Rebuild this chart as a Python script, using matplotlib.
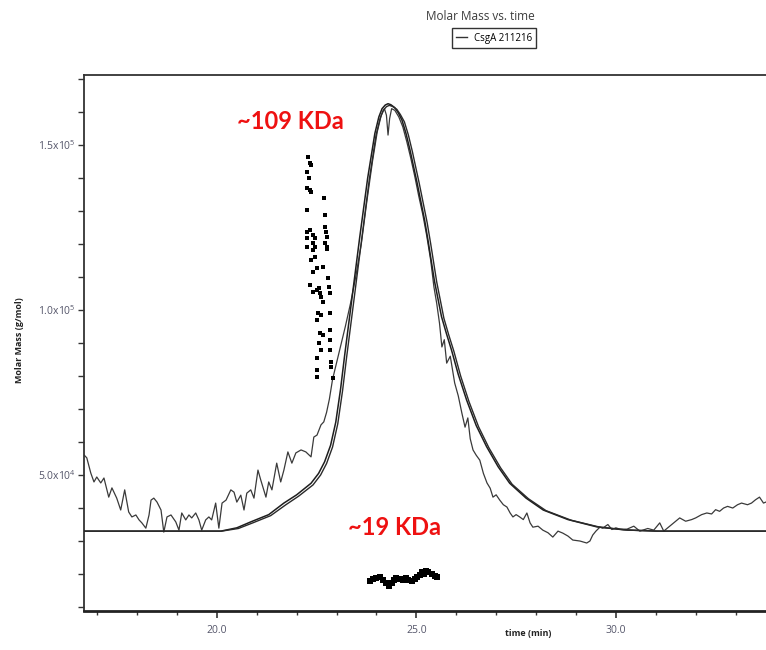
import matplotlib
matplotlib.use("Agg")
import matplotlib.pyplot as plt
from matplotlib.ticker import MultipleLocator, FixedLocator, FuncFormatter
from matplotlib.lines import Line2D

# ---- data -------------------------------------------------------------
# detector trace (noisy), time in min, molar mass in g/mol
trace_t = [16.62, 16.67, 16.74, 16.84, 16.92, 16.99, 17.09, 17.17, 17.29, 17.37, 17.49,
           17.59, 17.69, 17.79, 17.87, 17.97, 18.05, 18.12, 18.22, 18.30, 18.35, 18.42,
           18.50, 18.60, 18.67, 18.75, 18.85, 18.97, 19.05, 19.12, 19.22, 19.30, 19.37,
           19.47, 19.55, 19.62, 19.72, 19.80, 19.87, 19.97, 20.05, 20.13, 20.23, 20.35,
           20.43, 20.50, 20.60, 20.68, 20.75, 20.85, 20.93, 21.03, 21.10, 21.23, 21.30,
           21.38, 21.50, 21.60, 21.68, 21.78, 21.88, 21.98, 22.11, 22.23, 22.36, 22.43,
           22.51, 22.61, 22.68, 22.75, 22.82, 22.90, 23.00, 23.10, 23.22, 23.35, 23.48,
           23.62, 23.76, 23.90, 24.02, 24.12, 24.20, 24.25, 24.29, 24.33, 24.38, 24.46,
           24.56, 24.66, 24.76, 24.86, 24.96, 25.06, 25.16, 25.26, 25.36, 25.44, 25.51,
           25.58, 25.64, 25.70, 25.76, 25.85, 25.96, 26.05, 26.14, 26.22, 26.29, 26.35,
           26.42, 26.50, 26.59, 26.68, 26.77, 26.85, 26.92, 27.00, 27.09, 27.18, 27.27,
           27.35, 27.42, 27.50, 27.59, 27.68, 27.77, 27.85, 27.92, 28.05, 28.17, 28.30,
           28.42, 28.55, 28.67, 28.80, 28.92, 29.10, 29.27, 29.35, 29.42, 29.50, 29.60,
           29.67, 29.80, 29.90, 30.00, 30.10, 30.28, 30.45, 30.60, 30.80, 30.95, 31.10,
           31.20, 31.35, 31.50, 31.60, 31.75, 31.90, 32.00, 32.15, 32.28, 32.40, 32.50,
           32.60, 32.70, 32.80, 32.93, 33.05, 33.15, 33.30, 33.40, 33.50, 33.60, 33.70,
           33.80, 33.95]
trace_m = [55000, 56100, 55200, 50600, 47900, 49400, 47600, 49100, 43300, 46100, 43000,
           39400, 45500, 38800, 37300, 37900, 36400, 35500, 33900, 37900, 42400, 43000,
           41800, 39400, 32700, 37300, 37900, 35800, 33300, 38500, 36400, 37900, 37000,
           38500, 36400, 33300, 36400, 37300, 36400, 41500, 33900, 41500, 42400, 45500,
           44800, 41800, 43900, 39400, 44500, 45500, 43000, 51500, 48500, 43300, 47900,
           45500, 53600, 47900, 51500, 57000, 53600, 56700, 57600, 57000, 55500, 61500,
           62100, 65200, 66100, 69000, 73000, 79000, 84000, 89000, 95000, 102000, 110000,
           120000, 133000, 145000, 154000, 159000, 161000, 159000, 153000, 158000, 161000, 160500,
           158500, 155500, 151000, 146000, 140500, 134500, 129000, 122500, 115000, 107000, 102000,
           96000, 88800, 91000, 83900, 86000, 77900, 74000, 68800, 64500, 67300, 61000,
           57600, 56000, 54500, 50500, 47600, 46000, 43300, 44000, 42400, 41000, 40300,
           38500, 37300, 38000, 37300, 36500, 38500, 35500, 34200, 34500, 33300, 32500,
           31200, 33000, 32400, 31500, 30300, 30000, 29400, 30000, 31800, 33000, 34200,
           33900, 35000, 33500, 34000, 33600, 33600, 34500, 33000, 33800, 33300, 35500,
           33000, 34500, 36000, 37000, 36000, 36500, 37000, 38000, 38500, 38200, 39500,
           39000, 40000, 40500, 40000, 41000, 41500, 41000, 41500, 42500, 43300, 41500,
           42000, 42500]

# fitted traces (smooth)
fit1_t = [16.60, 20.10, 20.50, 20.85, 21.30, 21.68, 22.00, 22.36, 22.55, 22.70, 22.85,
          22.98, 23.10, 23.20, 23.38, 23.58, 23.78, 23.96, 24.06, 24.14, 24.22, 24.29,
          24.36, 24.46, 24.55, 24.64, 24.74, 24.84, 24.92, 25.01, 25.11, 25.21, 25.30,
          25.45, 25.63, 25.75, 25.88, 26.05, 26.26, 26.50, 26.76, 27.05, 27.34, 27.75,
          28.18, 28.80, 29.52, 30.20, 31.00, 36.60]
fit1_m = [33000, 33000, 34000, 35800, 38000, 41500, 44000, 47500, 50500, 54000, 59000,
          66000, 76000, 86000, 103000, 122000, 140000, 153500, 158500, 161000, 162100, 162500,
          162200, 161300, 159700, 157500, 153500, 148500, 144000, 139000, 133000, 127000, 120500,
          109000, 98000, 93000, 87900, 80500, 72700, 65000, 58600, 52500, 47500, 43000,
          39400, 36500, 34300, 33400, 33000, 33000]

fit2_t = [16.60, 20.12, 20.54, 20.90, 21.35, 21.73, 22.05, 22.41, 22.60, 22.75, 22.90,
          23.03, 23.15, 23.25, 23.43, 23.63, 23.82, 23.99, 24.09, 24.17, 24.25, 24.32,
          24.40, 24.51, 24.60, 24.70, 24.80, 24.90, 24.98, 25.07, 25.17, 25.27, 25.36,
          25.51, 25.69, 25.81, 25.94, 26.11, 26.32, 26.56, 26.82, 27.11, 27.40, 27.81,
          28.25, 28.88, 29.60, 30.30, 31.10, 36.60]
fit2_m = [33000, 33000, 33800, 35500, 37700, 41000, 43600, 47000, 50000, 53500, 58500,
          65500, 75500, 85500, 102500, 121500, 139500, 153000, 158000, 160500, 161600, 162000,
          161700, 160800, 159200, 157000, 153000, 148000, 143500, 138500, 132500, 126500, 120000,
          108500, 97500, 92500, 87500, 80000, 72200, 64600, 58200, 52200, 47200, 42800,
          39200, 36300, 34200, 33300, 33000, 33000]

# molar mass points, high-mass species
hm_t = [22.29, 22.33, 22.37, 22.25, 22.31, 22.25, 22.33, 22.35, 22.25, 22.25, 22.25,
        22.25, 22.33, 22.41, 22.46, 22.41, 22.46, 22.41, 22.37, 22.46, 22.40, 22.50,
        22.33, 22.41, 22.50, 22.56, 22.58, 22.62, 22.66, 22.54, 22.62, 22.50, 22.58,
        22.65, 22.56, 22.62, 22.50, 22.50, 22.51,
        22.68, 22.71, 22.71, 22.73, 22.75, 22.71, 22.75, 22.76, 22.66, 22.79, 22.81,
        22.83, 22.83, 22.83, 22.83, 22.83, 22.87, 22.87, 22.90]
hm_m = [146300, 144400, 143900, 141900, 139900, 136900, 136400, 135800, 130300, 123700, 121700,
        119000, 124200, 122700, 121700, 120200, 119200, 118200, 115100, 116100, 111600, 112600,
        107600, 105500, 106100, 106600, 105100, 104000, 102500, 99000, 98500, 97000, 92900,
        92400, 89900, 87900, 85400, 81800, 79800,
        133800, 128800, 125200, 123700, 122200, 120200, 119200, 118400, 113100, 109600, 107100,
        105100, 99000, 93900, 90900, 87900, 84300, 82800, 79300]

# molar mass points, low-mass species
lm_t = [23.83, 23.92, 24.00, 24.09, 24.17, 24.25, 24.32, 24.38, 24.44, 24.50, 24.59,
        24.67, 24.74, 24.79, 24.88, 24.96, 25.02, 25.09, 25.13, 25.19, 25.24, 25.30,
        25.38, 25.46, 25.51]
lm_m = [18000, 18400, 18700, 19000, 18200, 17200, 16400, 17200, 18200, 18700, 18400,
        18200, 18700, 18200, 17900, 18400, 19000, 19700, 20700, 20000, 21000, 20700,
        20000, 19400, 19200]

y_major = [50000, 100000, 150000]
y_major_labels = [r"$\mathregular{5.0x10^{4}}$", r"$\mathregular{1.0x10^{5}}$",
                  r"$\mathregular{1.5x10^{5}}$"]

# ---- figure -----------------------------------------------------------
W, H = 766, 650
fig = plt.figure(figsize=(W / 100, H / 100), dpi=100)
fig.patch.set_facecolor("white")
ax = fig.add_axes([84 / W, 39 / H, 792 / W, 536 / H])

ax.plot(trace_t, trace_m, color="#3a3a3a", lw=0.9, zorder=2)
ax.plot(fit1_t, fit1_m, color="#1e1e1e", lw=1.1, zorder=3)
ax.plot(fit2_t, fit2_m, color="#2a2a2a", lw=1.0, zorder=3)
ax.plot(hm_t, hm_m, ls="none", marker="s", ms=3.0, color="black", mew=0, zorder=4)
ax.plot(lm_t, lm_m, ls="none", marker="s", ms=5.0, color="black", mew=0, zorder=4)

ax.set_xlim(16.67, 36.52)
ax.set_ylim(8800, 171200)

ax.xaxis.set_major_locator(MultipleLocator(5))
ax.xaxis.set_minor_locator(MultipleLocator(1))
# only the labels that fall inside the visible part of the axis
ax.xaxis.set_major_formatter(FuncFormatter(lambda v, p: f"{v:.1f}" if v < 34 else ""))
ax.yaxis.set_major_locator(FixedLocator(y_major))
ax.yaxis.set_minor_locator(MultipleLocator(10000))
ax.yaxis.set_major_formatter(FuncFormatter(
    lambda v, p: y_major_labels[y_major.index(v)] if v in y_major else ""))

for name in ("left", "top"):
    ax.spines[name].set_linewidth(1.3)
    ax.spines[name].set_color("#333333")
ax.spines["bottom"].set_linewidth(2.0)
ax.spines["bottom"].set_color("#222222")
ax.spines["right"].set_visible(False)

ax.tick_params(axis="both", which="both", direction="out", color="#333333",
               labelcolor="#55566a", labelsize=7.5)
ax.tick_params(axis="x", which="major", length=5, width=1.2, pad=5)
ax.tick_params(axis="x", which="minor", length=3, width=1.0)
ax.tick_params(axis="y", which="both", length=4, width=1.0, pad=2)
for lab in ax.get_xticklabels() + ax.get_yticklabels():
    lab.set_family(["Open Sans", "DejaVu Sans"])

# annotations
ax.text(21.85, 157000, "~109 KDa", color="#ee1111", fontsize=17, fontweight="bold",
        family=["Lato", "DejaVu Sans"], ha="center", va="center")
ax.text(24.46, 34200, "~19 KDa", color="#ee1111", fontsize=17, fontweight="bold",
        family=["Lato", "DejaVu Sans"], ha="center", va="center")

# titles and axis labels
fig.text(480 / W, 1 - 16 / H, "Molar Mass vs. time", ha="center", va="center",
         fontsize=8.5, color="#3c3c3c", family=["Open Sans", "DejaVu Sans"])
fig.text(528 / W, 1 - 633 / H, "time (min)", ha="center", va="center",
         fontsize=6.5, fontweight="bold", color="#222222", family=["Open Sans", "DejaVu Sans"])
fig.text(20 / W, 1 - 340 / H, "Molar Mass (g/mol)", ha="center", va="center",
         rotation=90, fontsize=6.5, fontweight="bold", color="#222222",
         family=["Open Sans", "DejaVu Sans"])

handle = Line2D([0], [0], color="#333333", lw=1.0)
leg = fig.legend(handles=[handle], labels=["CsgA 211216"], loc="center",
                 bbox_to_anchor=(494 / W, 1 - 38 / H), frameon=True,
                 fancybox=False, edgecolor="#333333", framealpha=1,
                 handlelength=1.1, handletextpad=0.7, borderpad=0.45, borderaxespad=0,
                 prop={"family": ["Open Sans", "DejaVu Sans"], "size": 7})
leg.get_frame().set_linewidth(1.0)

fig.savefig("out.png", dpi=100)
